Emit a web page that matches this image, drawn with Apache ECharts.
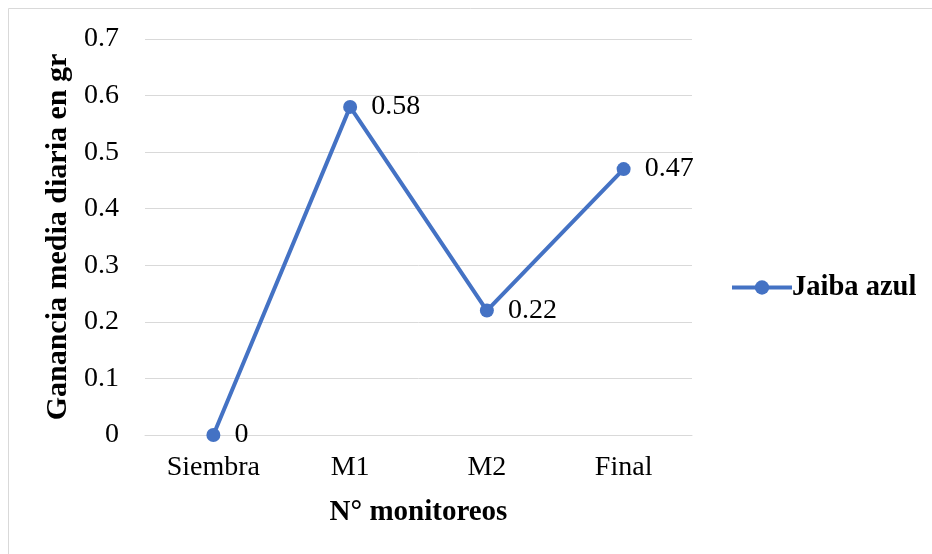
<!DOCTYPE html>
<html>
<head>
<meta charset="utf-8">
<script src="https://cdn.jsdelivr.net/npm/echarts@6/dist/echarts.min.js"></script>
<style>
  html, body { margin: 0; padding: 0; background: #ffffff; }
  #chart { width: 932px; height: 554px; }
</style>
</head>
<body>
<div id="chart"></div>
<script>
// Monitoring stages and the daily weight gain of the blue crab
const categories = ['Siembra', 'M1', 'M2', 'Final'];
const gananciaJaiba = [0, 0.58, 0.22, 0.47];
const seriesName = 'Jaiba azul';
const yAxisTitle = 'Ganancia media diaria en gr';
const xAxisTitle = 'N° monitoreos';

const serif = '"Liberation Serif", "Times New Roman", serif';
const blue = '#4472C4';

const chart = echarts.init(document.getElementById('chart'), null, { renderer: 'canvas' });

chart.setOption({
  backgroundColor: '#ffffff',
  animation: false,
  graphic: [{
    type: 'rect',
    shape: { x: 8.5, y: 8.5, width: 940, height: 560 },
    style: { fill: 'none', stroke: '#d9d9d9', lineWidth: 1 },
    silent: true
  }],
  grid: { left: 145, right: 240, top: 39, bottom: 119, containLabel: false },
  legend: {
    data: [seriesName],
    orient: 'vertical',
    left: 725,
    top: 268,
    itemWidth: 60,
    itemHeight: 18,
    itemGap: 0,
    lineStyle: { width: 4 },
    textStyle: { fontFamily: serif, fontSize: 28.5, fontWeight: 'bold', color: '#000000', padding: [0, 0, 0, -5] }
  },
  xAxis: {
    type: 'category',
    data: categories,
    boundaryGap: true,
    name: xAxisTitle,
    nameLocation: 'middle',
    nameGap: 63,
    nameTextStyle: { fontFamily: serif, fontSize: 29, fontWeight: 'bold', color: '#000000', verticalAlign: 'top' },
    axisLine: { show: true, lineStyle: { color: '#d9d9d9', width: 1 } },
    axisTick: { show: false },
    axisLabel: { fontFamily: serif, fontSize: 28, color: '#000000', margin: 19 }
  },
  yAxis: {
    type: 'value',
    min: 0,
    max: 0.7,
    interval: 0.1,
    name: yAxisTitle,
    nameLocation: 'middle',
    nameGap: 72,
    nameTextStyle: { fontFamily: serif, fontSize: 30, fontWeight: 'bold', color: '#000000' },
    axisLine: { show: false },
    axisTick: { show: false },
    splitLine: { show: true, lineStyle: { color: '#d9d9d9', width: 1 } },
    axisLabel: {
      fontFamily: serif, fontSize: 28, color: '#000000', margin: 26,
      formatter: v => (Math.round(v * 10) / 10).toString()
    }
  },
  series: [{
    name: seriesName,
    type: 'line',
    data: gananciaJaiba,
    symbol: 'circle',
    symbolSize: 14,
    lineStyle: { color: blue, width: 4 },
    itemStyle: { color: blue },
    label: {
      show: true,
      position: 'right',
      distance: 14,
      fontFamily: serif,
      fontSize: 28,
      color: '#000000'
    }
  }]
});
</script>
</body>
</html>
